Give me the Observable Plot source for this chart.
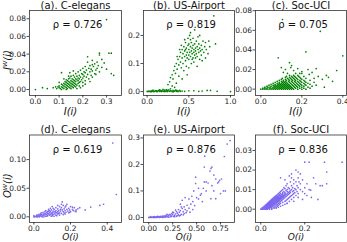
<!DOCTYPE html>
<html><head><meta charset="utf-8">
<script src="https://cdn.jsdelivr.net/npm/d3@7"></script>
<script src="https://cdn.jsdelivr.net/npm/@observablehq/plot@0.6"></script>
<style>
body{margin:0;background:#fff;}
#chart{position:relative;width:347px;height:242px;overflow:hidden;font-family:"DejaVu Sans",sans-serif;}
#chart svg{position:absolute;left:0;top:0;}
</style></head><body><div id="chart"></div>
<script>
// ---------- DATA ----------
const titles = ["(a). C-elegans","(b). US-Airport","(c). Soc-UCI","(d). C-elegans","(e). US-Airport","(f). Soc-UCI"];
const rhos = ["0.726","0.819","0.705","0.619","0.876","0.836"];
const xLabels = ["I(i)","I(i)","I(i)","O(i)","O(i)","O(i)"];
const yLabels = ["I\u1D42(i)", null, null, "O\u1D42(i)", null, null];
const xTicks = [[0,0.1,0.2,0.3],[0,0.5,1.0],[0,0.2,0.4],[0,0.2,0.4],[0,0.25,0.5,0.75],[0,0.2]];
const yTicks = [[0,0.02,0.04,0.06,0.08],[0,0.1,0.2],[0,0.02,0.04,0.06,0.08],[0,0.05,0.10],[0,0.1,0.2,0.3],[0,0.01,0.02,0.03]];
const xFormats = [".1f",".1f",".1f",".1f",".2f",".1f"];
const yFormats = [".2f",".1f",".2f",".2f",".1f",".2f"];

const celegansI = [
[0.00,0.000],[0.03,0.002],[0.05,0.001],[0.075,0.002],[0.10,0.004],[0.11,0.019],
[0.09,0.001],[0.095,0.003],[0.10,0.002],[0.105,0.001],[0.11,0.003],[0.11,0.006],[0.115,0.002],[0.115,0.005],
[0.12,0.001],[0.12,0.004],[0.12,0.007],[0.125,0.003],[0.125,0.006],[0.125,0.009],[0.13,0.002],[0.13,0.005],
[0.13,0.008],[0.13,0.011],[0.135,0.001],[0.135,0.004],[0.135,0.007],[0.135,0.010],[0.14,0.003],[0.14,0.006],
[0.14,0.009],[0.14,0.012],[0.145,0.002],[0.145,0.005],[0.145,0.008],[0.145,0.013],[0.15,0.004],[0.15,0.007],
[0.15,0.010],[0.15,0.015],[0.155,0.003],[0.155,0.006],[0.155,0.009],[0.155,0.012],[0.16,0.002],[0.16,0.005],
[0.16,0.008],[0.16,0.011],[0.16,0.016],[0.165,0.004],[0.165,0.007],[0.165,0.010],[0.165,0.014],[0.17,0.006],
[0.17,0.009],[0.17,0.012],[0.17,0.018],[0.175,0.005],[0.175,0.011],[0.175,0.015],[0.18,0.007],[0.18,0.010],
[0.18,0.013],[0.18,0.020],[0.185,0.004],[0.185,0.012],[0.185,0.016],[0.19,0.009],[0.19,0.014],[0.19,0.022],
[0.195,0.011],[0.195,0.018],[0.20,0.008],[0.20,0.013],[0.20,0.017],[0.20,0.024],[0.205,0.015],[0.205,0.020],
[0.21,0.010],[0.21,0.019],[0.21,0.026],[0.215,0.014],[0.215,0.022],[0.22,0.017],[0.22,0.031],[0.22,0.037],
[0.225,0.012],[0.225,0.024],[0.23,0.020],[0.23,0.027],[0.235,0.016],[0.235,0.023],[0.24,0.033],[0.24,0.021],
[0.245,0.026],[0.25,0.018],[0.25,0.029],[0.255,0.022],[0.26,0.031],[0.26,0.024],[0.265,0.027],[0.27,0.041],
[0.27,0.039],[0.27,0.020],[0.28,0.025],[0.29,0.030],[0.30,0.079],[0.31,0.041],[0.32,0.041],[0.32,0.018],
[0.33,0.016],[0.30,0.023],[0.145,0.019],[0.10,0.008],[0.085,0.003],[0.16,0.021],[0.12,0.012],[0.19,0.002],
[0.20,0.004],[0.21,0.006],[0.175,0.001],[0.23,0.009],[0.11,0.000],[0.13,0.000],[0.15,0.001],[0.17,0.003],
[0.14,0.015],[0.185,0.008],[0.24,0.014],[0.255,0.017],[0.28,0.034],[0.24,0.028]
];

const usAirportIBase = [
[0.00,0.001],[0.01,0.000],[0.02,0.002],[0.03,0.001],[0.04,0.000],[0.05,0.003],[0.06,0.001],[0.07,0.002],
[0.08,0.000],[0.09,0.001],[0.10,0.003],[0.11,0.001],[0.12,0.000],[0.13,0.002],[0.14,0.004],[0.15,0.001],
[0.16,0.002],[0.17,0.000],[0.18,0.003],[0.19,0.001],[0.20,0.002],[0.21,0.005],[0.22,0.001],[0.23,0.003],
[0.24,0.000],[0.25,0.002],[0.26,0.006],[0.27,0.001],[0.28,0.003],[0.29,0.002],[0.30,0.000],[0.31,0.004],
[0.32,0.001],[0.33,0.002],[0.34,0.005],[0.35,0.001],[0.36,0.003],[0.37,0.000],[0.38,0.002],[0.39,0.004],
[0.40,0.001],[0.42,0.002],[0.15,0.006],[0.19,0.008],[0.23,0.007],[0.45,0.001],[0.50,0.003],[0.56,0.003],
[0.62,0.001],[0.66,0.002],[0.72,0.004],[0.76,0.004],[0.84,0.001],[1.00,0.000],[0.07,0.005],[0.28,0.010],
[0.30,0.020],[0.33,0.015],[0.05,0.000],[0.115,0.003],[0.165,0.004],[0.205,0.000],[0.245,0.004],[0.315,0.000],[0.355,0.004]
];
const usAirportICloud = [
[0.25,0.025],[0.27,0.035],[0.28,0.050],[0.30,0.060],[0.31,0.045],[0.32,0.075],[0.33,0.090],[0.34,0.065],
[0.35,0.100],[0.36,0.080],[0.37,0.115],[0.38,0.095],[0.39,0.125],[0.40,0.105],[0.40,0.140],[0.41,0.085],
[0.42,0.120],[0.42,0.150],[0.43,0.100],[0.43,0.135],[0.44,0.160],[0.45,0.125],[0.45,0.145],[0.46,0.110],
[0.46,0.175],[0.47,0.130],[0.47,0.155],[0.48,0.140],[0.48,0.120],[0.49,0.165],[0.49,0.190],[0.50,0.130],
[0.50,0.150],[0.50,0.115],[0.51,0.140],[0.51,0.200],[0.52,0.160],[0.52,0.125],[0.52,0.210],[0.53,0.145],
[0.53,0.175],[0.54,0.135],[0.54,0.155],[0.55,0.120],[0.55,0.165],[0.55,0.190],[0.56,0.140],[0.56,0.150],
[0.57,0.130],[0.57,0.170],[0.58,0.155],[0.58,0.145],[0.59,0.180],[0.59,0.135],[0.60,0.160],[0.60,0.125],
[0.61,0.150],[0.61,0.195],[0.62,0.140],[0.62,0.170],[0.63,0.155],[0.63,0.115],[0.64,0.145],[0.65,0.165],
[0.65,0.130],[0.66,0.150],[0.67,0.180],[0.68,0.140],[0.69,0.160],[0.70,0.120],[0.71,0.150],[0.73,0.135],
[0.75,0.160],[0.80,0.270],[0.82,0.170],[0.44,0.075],[0.47,0.090],[0.50,0.085],[0.53,0.100],[0.56,0.105],
[0.60,0.090],[0.38,0.055],[0.42,0.045],[0.35,0.030],[0.48,0.060],[0.57,0.220],[0.63,0.200],[0.52,0.185],
[0.45,0.185],[0.58,0.120],[0.66,0.110],[0.70,0.175],[0.74,0.180],[0.50,0.170],[0.54,0.115],[0.46,0.150],
[0.41,0.165],[0.39,0.150],[0.36,0.125]
];

const socUciIBlobRows = [
[0.000,[0.00,0.01,0.02,0.03,0.04,0.05,0.06,0.07,0.08,0.09,0.10,0.11,0.12,0.13,0.14,0.15,0.16,0.18,0.20,0.22]],
[0.001,[0.01,0.02,0.03,0.045,0.055,0.065,0.075,0.085,0.095,0.105,0.115,0.125,0.135,0.145,0.155,0.17,0.19,0.21,0.24]],
[0.002,[0.02,0.035,0.045,0.06,0.07,0.08,0.09,0.10,0.11,0.12,0.13,0.14,0.15,0.165,0.18,0.20,0.23]],
[0.003,[0.03,0.05,0.065,0.075,0.085,0.095,0.105,0.115,0.125,0.135,0.145,0.16,0.175,0.19,0.21,0.25]],
[0.004,[0.04,0.06,0.07,0.08,0.09,0.10,0.11,0.12,0.13,0.14,0.155,0.17,0.185,0.20,0.22]],
[0.005,[0.05,0.07,0.085,0.095,0.105,0.115,0.125,0.135,0.15,0.165,0.18,0.195,0.215,0.24]],
[0.006,[0.06,0.08,0.09,0.10,0.11,0.12,0.13,0.145,0.16,0.175,0.19,0.21,0.23]],
[0.007,[0.07,0.09,0.105,0.115,0.125,0.14,0.155,0.17,0.185,0.20,0.22,0.26]],
[0.008,[0.08,0.10,0.11,0.12,0.135,0.15,0.165,0.18,0.195,0.215]],
[0.009,[0.09,0.11,0.125,0.14,0.155,0.17,0.19,0.21,0.24]],
[0.010,[0.10,0.12,0.135,0.15,0.165,0.18,0.20]],
[0.011,[0.105,0.13,0.145,0.16,0.175,0.195,0.22]],
[0.012,[0.12,0.14,0.155,0.17,0.19]],
[0.013,[0.125,0.15,0.165,0.185,0.21]],
[0.014,[0.14,0.16,0.18]],
[0.016,[0.13,0.17,0.20]]
];
const socUciIScatter = [
[0.106,0.071],[0.29,0.059],[0.22,0.038],[0.40,0.034],[0.085,0.032],[0.14,0.027],[0.146,0.022],[0.27,0.021],
[0.37,0.019],[0.32,0.014],[0.31,0.002],[0.25,0.017],[0.236,0.015],[0.20,0.018],[0.18,0.021],[0.28,0.013],
[0.30,0.010],[0.33,0.012],[0.12,0.020],[0.10,0.022],[0.16,0.019],[0.26,0.011],[0.23,0.020],[0.35,0.008],
[0.15,0.024],[0.11,0.017],[0.19,0.016],[0.27,0.004]
];

const celegansO = [
[0.00,0.000],[0.01,0.001],[0.015,0.000],[0.02,0.002],[0.025,0.001],[0.03,0.003],[0.03,0.000],[0.035,0.002],
[0.04,0.004],[0.04,0.001],[0.045,0.003],[0.05,0.005],[0.05,0.002],[0.055,0.000],[0.055,0.004],[0.06,0.006],
[0.06,0.003],[0.065,0.001],[0.065,0.005],[0.07,0.008],[0.07,0.004],[0.075,0.002],[0.075,0.006],[0.08,0.010],
[0.08,0.005],[0.085,0.003],[0.085,0.007],[0.09,0.009],[0.09,0.004],[0.095,0.006],[0.095,0.012],[0.10,0.002],
[0.10,0.008],[0.10,0.005],[0.105,0.010],[0.105,0.004],[0.11,0.007],[0.11,0.013],[0.115,0.005],[0.115,0.009],
[0.12,0.003],[0.12,0.011],[0.12,0.016],[0.125,0.007],[0.13,0.009],[0.13,0.005],[0.13,0.014],[0.135,0.011],
[0.14,0.007],[0.14,0.018],[0.145,0.010],[0.145,0.013],[0.15,0.006],[0.15,0.016],[0.155,0.026],[0.155,0.012],
[0.16,0.009],[0.16,0.020],[0.165,0.014],[0.17,0.011],[0.17,0.017],[0.175,0.008],[0.18,0.013],[0.18,0.022],
[0.185,0.010],[0.19,0.015],[0.195,0.012],[0.20,0.009],[0.20,0.018],[0.21,0.013],[0.215,0.011],[0.22,0.016],
[0.225,0.010],[0.23,0.012],[0.24,0.014],[0.28,0.012],[0.31,0.017],[0.36,0.020],[0.38,0.022],[0.43,0.129],
[0.45,0.039],[0.05,0.008],[0.025,0.004],[0.08,0.013],[0.11,0.001],[0.14,0.003],[0.17,0.005],[0.19,0.007],
[0.06,0.009],[0.09,0.015],[0.045,0.000],[0.07,0.001],[0.035,0.005],[0.10,0.018],[0.13,0.020],[0.15,0.022],
[0.16,0.004],[0.21,0.017],[0.23,0.009],[0.25,0.016],[0.00,0.002],[0.005,0.000],[0.015,0.003],[0.065,0.011],
[0.085,0.011],[0.12,0.008],[0.02,0.000],[0.04,0.007],[0.075,0.009],[0.095,0.001],[0.105,0.015],[0.125,0.002],
[0.135,0.006],[0.165,0.007],[0.175,0.019],[0.195,0.008]
];

const usAirportO = [
[0.00,0.000],[0.01,0.000],[0.02,0.001],[0.03,0.000],[0.04,0.001],[0.05,0.002],[0.06,0.000],[0.07,0.001],
[0.08,0.002],[0.09,0.001],[0.10,0.003],[0.11,0.002],[0.12,0.004],[0.13,0.002],[0.14,0.005],[0.15,0.003],
[0.16,0.006],[0.17,0.004],[0.18,0.008],[0.19,0.005],[0.20,0.010],[0.21,0.007],[0.22,0.012],[0.23,0.009],
[0.24,0.015],[0.25,0.011],[0.26,0.018],[0.27,0.008],[0.28,0.013],[0.29,0.022],[0.30,0.016],[0.31,0.030],
[0.32,0.020],[0.33,0.026],[0.34,0.012],[0.35,0.034],[0.36,0.022],[0.37,0.040],[0.38,0.030],[0.39,0.018],
[0.40,0.046],[0.42,0.035],[0.44,0.050],[0.46,0.060],[0.48,0.045],[0.50,0.075],[0.52,0.070],[0.55,0.090],
[0.57,0.110],[0.60,0.100],[0.62,0.130],[0.64,0.175],[0.65,0.185],[0.66,0.120],[0.68,0.100],[0.70,0.145],
[0.72,0.130],[0.74,0.140],[0.76,0.145],[0.78,0.100],[0.79,0.230],[0.82,0.277],[0.85,0.290],[0.49,0.152],
[0.49,0.128],[0.47,0.100],[0.45,0.080],[0.42,0.070],[0.38,0.075],[0.35,0.065],[0.33,0.050],[0.54,0.084],
[0.58,0.134],[0.60,0.134],[0.585,0.231],[0.58,0.190],[0.66,0.190],[0.70,0.071],[0.65,0.071],[0.73,0.134],
[0.02,0.003],[0.05,0.000],[0.08,0.000],[0.11,0.000],[0.14,0.001],[0.17,0.001],[0.20,0.002],[0.23,0.003],
[0.26,0.004],[0.29,0.005],[0.32,0.006],[0.12,0.001],[0.15,0.000],[0.18,0.002],[0.21,0.001],[0.24,0.005],
[0.27,0.003],[0.30,0.007],[0.33,0.008],[0.36,0.010],[0.06,0.003],[0.09,0.004],[0.19,0.012],[0.25,0.020],
[0.28,0.028],[0.31,0.010],[0.34,0.040],[0.37,0.015],[0.40,0.025],[0.43,0.020],[0.46,0.030],[0.52,0.110],
[0.56,0.060],[0.68,0.160],[0.75,0.090],[0.80,0.100]
];

const socUciOBlobRows = [
[0.0000,[0.000,0.005,0.01,0.015,0.02,0.025,0.03,0.04,0.05]],
[0.0005,[0.005,0.01,0.015,0.02,0.025,0.03,0.035,0.04,0.05,0.06,0.07]],
[0.0010,[0.01,0.015,0.02,0.025,0.03,0.035,0.04,0.045,0.05,0.06,0.07,0.08]],
[0.0015,[0.015,0.02,0.025,0.03,0.035,0.04,0.045,0.05,0.055,0.065,0.075,0.09]],
[0.0020,[0.02,0.025,0.03,0.035,0.04,0.045,0.05,0.055,0.06,0.07,0.08,0.10]],
[0.0025,[0.025,0.03,0.035,0.04,0.045,0.05,0.055,0.06,0.065,0.075,0.085,0.11]],
[0.0030,[0.03,0.035,0.04,0.045,0.05,0.055,0.06,0.065,0.07,0.08,0.09,0.12]],
[0.0035,[0.035,0.04,0.045,0.05,0.055,0.06,0.065,0.07,0.075,0.085,0.10]],
[0.0040,[0.04,0.045,0.05,0.055,0.06,0.065,0.07,0.075,0.08,0.09,0.11,0.13]],
[0.0045,[0.045,0.05,0.055,0.06,0.065,0.07,0.075,0.08,0.085,0.095,0.115]],
[0.0050,[0.05,0.055,0.06,0.065,0.07,0.075,0.08,0.085,0.09,0.10,0.12,0.14]],
[0.0055,[0.055,0.06,0.065,0.07,0.075,0.08,0.085,0.09,0.095,0.105,0.125]],
[0.0060,[0.06,0.065,0.07,0.075,0.08,0.085,0.09,0.095,0.10,0.11,0.13,0.15]],
[0.0065,[0.065,0.07,0.075,0.08,0.09,0.095,0.10,0.105,0.115,0.135]],
[0.0070,[0.07,0.08,0.085,0.09,0.10,0.105,0.11,0.12,0.14,0.16]],
[0.0075,[0.075,0.085,0.095,0.10,0.11,0.115,0.125,0.145]],
[0.0080,[0.08,0.09,0.10,0.11,0.12,0.13,0.15,0.17]],
[0.0085,[0.085,0.10,0.11,0.125,0.135,0.155]],
[0.0090,[0.09,0.105,0.12,0.13,0.145,0.165,0.19]],
[0.0095,[0.095,0.115,0.135,0.15]],
[0.0100,[0.10,0.12,0.14,0.16,0.18]],
[0.0105,[0.11,0.13,0.155]],
[0.0110,[0.105,0.125,0.145,0.17,0.20]],
[0.0120,[0.115,0.14,0.165]],
[0.0130,[0.12,0.15,0.18,0.21]],
[0.0140,[0.135,0.16]],
[0.0150,[0.11,0.15,0.19]],
[0.0160,[0.09,0.14,0.17]]
];
const socUciOScatter = [
[0.17,0.019],[0.20,0.024],[0.22,0.024],[0.29,0.024],[0.37,0.024],[0.30,0.019],[0.28,0.012],[0.25,0.013],
[0.22,0.010],[0.20,0.008],[0.23,0.006],[0.26,0.005],[0.18,0.018],[0.16,0.020],[0.24,0.016],[0.27,0.012],
[0.19,0.005],[0.21,0.007],[0.30,0.013],[0.14,0.018],[0.13,0.017],[0.227,0.0097],[0.174,0.014],[0.15,0.004],
[0.12,0.003],[0.17,0.006]
];

// ---------- BUILD ----------
const rowsToPoints = rows => rows.flatMap(([y, xs]) => xs.map(x => [x, y]));
const panelData = [
  celegansI,
  usAirportIBase.concat(usAirportICloud),
  rowsToPoints(socUciIBlobRows).concat(socUciIScatter),
  celegansO,
  usAirportO,
  rowsToPoints(socUciOBlobRows).concat(socUciOScatter)
];

const W = 347, H = 242;
const cols = [[29,121],[143,234],[255,346]];
const rowsPx = [[10,95],[134.5,222]];
const xLabelOffsets = [16, 15];
const xLabelSizes = [10, 9];
const xDomains = [[-0.025,0.363],[-0.044,1.048],[-0.026,0.418],[-0.024,0.478],[-0.055,0.896],[-0.024,0.39]];
const yDomains = [[-0.0068,0.0893],[-0.014,0.289],[-0.0065,0.0802],[-0.0099,0.143],[-0.019,0.311],[-0.0068,0.0379]];
const colors = ["green","green","green","mediumslateblue","mediumslateblue","mediumslateblue"];

const chart = document.getElementById("chart");
const font = "DejaVu Sans";
const axisColor = "#222";

for (let i = 0; i < 6; i++) {
  const [l, r] = cols[i % 3];
  const row = Math.floor(i / 3);
  const [t, b] = rowsPx[row];
  const marks = [
    Plot.dot(panelData[i], {x: d => d[0], y: d => d[1], r: 0.85, fill: colors[i], stroke: "none"}),
    Plot.frame({stroke: "#333", strokeWidth: 0.8}),
    Plot.axisX({ticks: xTicks[i], tickFormat: d3.format(xFormats[i]), tickSize: 2.5, tickPadding: row ? 0.5 : 1, fontSize: 7.5, label: null, color: axisColor, strokeWidth: 0.8}),
    Plot.axisY({ticks: yTicks[i], tickFormat: d3.format(yFormats[i]), tickSize: 2.5, tickPadding: 1, fontSize: 7.5, label: null, color: axisColor, strokeWidth: 0.8}),
    Plot.text([titles[i]], {text: d => d, frameAnchor: "top", lineAnchor: "bottom", dy: -2, fontSize: 10, fill: "#111"}),
    Plot.text(["\u03C1 = " + rhos[i]], {text: d => d, frameAnchor: "top", lineAnchor: "middle", dy: 14.5, dx: 2, fontSize: 10, fill: "#111"}),
    Plot.text([xLabels[i]], {text: d => d, frameAnchor: "bottom", lineAnchor: "middle", dy: xLabelOffsets[row], dx: -5, fontSize: xLabelSizes[row], fontStyle: "italic", fill: "#111"})
  ];
  if (yLabels[i]) {
    marks.push(Plot.text([yLabels[i]], {text: d => d, frameAnchor: "left", rotate: -90, lineAnchor: "middle", textAnchor: "middle", dx: -22, dy: 7, fontSize: 10, fontStyle: "italic", fill: "#111"}));
  }
  const svg = Plot.plot({
    width: W, height: H,
    marginLeft: l, marginRight: W - r, marginTop: t, marginBottom: H - b,
    style: {background: "transparent", fontFamily: font, overflow: "visible"},
    x: {domain: xDomains[i]},
    y: {domain: yDomains[i]},
    marks
  });
  chart.appendChild(svg);
}
</script>
</body></html>
